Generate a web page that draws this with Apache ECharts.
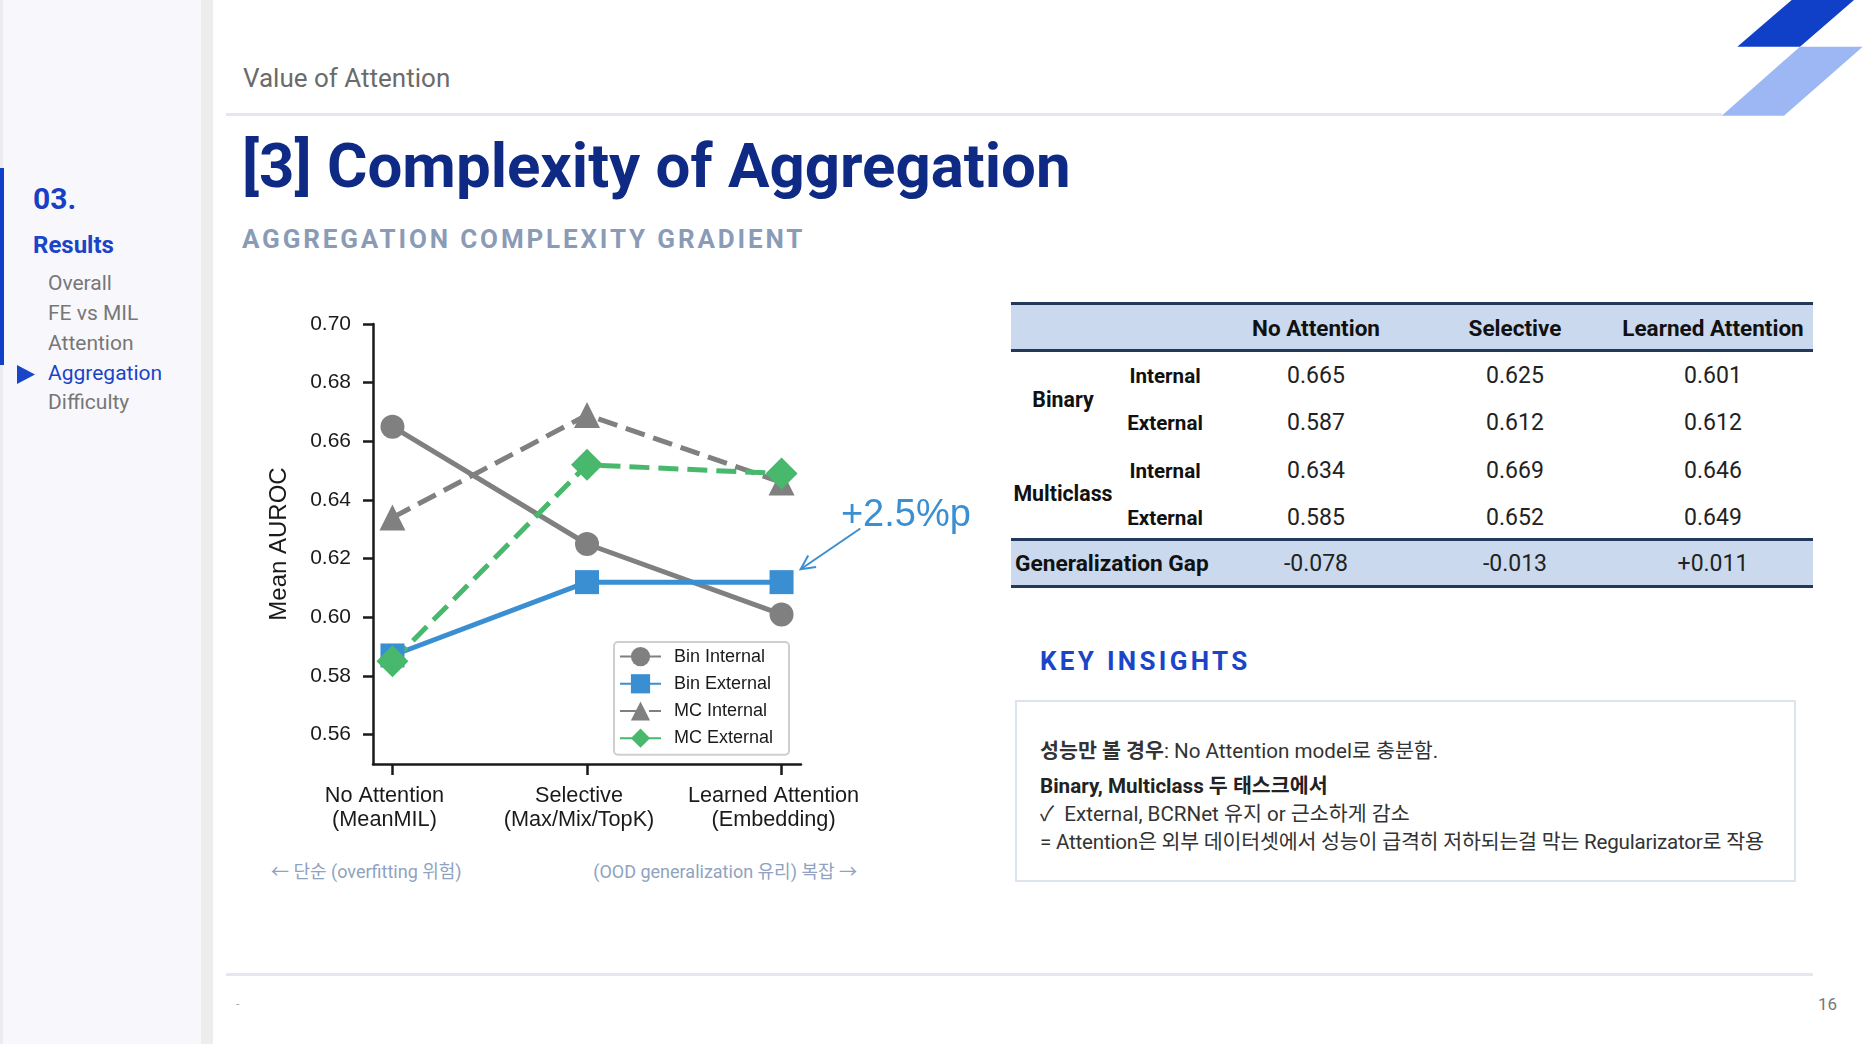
<!DOCTYPE html>
<html><head><meta charset="utf-8">
<script src="https://cdn.jsdelivr.net/npm/echarts@6/dist/echarts.min.js"></script>
<style>
html,body{margin:0;padding:0;}
body{width:1870px;height:1044px;position:relative;overflow:hidden;background:#fff;font-family:Roboto,"Noto Sans CJK KR",sans-serif;}
.a{position:absolute;white-space:nowrap;}
.menu{font-size:21px;color:#777;line-height:21px;left:48px;}
.cell{position:absolute;height:40px;line-height:40px;text-align:center;white-space:nowrap;}
.ins{left:1040px;font-size:20.6px;line-height:28px;color:#333;}
</style></head><body>
<!-- sidebar -->
<div class="a" style="left:0;top:0;width:201px;height:1044px;background:#f8f8fc;"></div>
<div class="a" style="left:0;top:0;width:3px;height:1044px;background:#ececf0;"></div>
<div class="a" style="left:201px;top:0;width:12px;height:1044px;background:#ededed;"></div>
<div class="a" style="left:0;top:168px;width:4px;height:197px;background:#1040c8;"></div>
<div class="a" style="left:33px;top:184px;font-size:30px;line-height:30px;font-weight:700;color:#1a3fc4;">03.</div>
<div class="a" style="left:33px;top:233px;font-size:24px;line-height:24px;font-weight:700;color:#1a45c8;">Results</div>
<div class="a menu" style="top:273px;">Overall</div>
<div class="a menu" style="top:303px;">FE vs MIL</div>
<div class="a menu" style="top:333px;">Attention</div>
<div class="a menu" style="top:363px;color:#1a45c8;">Aggregation</div>
<div class="a menu" style="top:392px;">Difficulty</div>
<svg class="a" style="left:0;top:0;" width="1870" height="1044">
  <polygon points="17,365 35,374.5 17,384" fill="#1a45c8"/>
  <polygon points="1791.7,0 1854,0 1800,46.7 1737.3,46.7" fill="#1040c8"/>
  <polygon points="1800,46.7 1862.7,46.7 1784,115.7 1721.7,115.7" fill="#9db6f4"/>
</svg>
<!-- header -->
<div class="a" style="left:243px;top:65px;font-size:26px;line-height:26px;color:#6b6b6b;">Value of Attention</div>
<div class="a" style="left:226px;top:113px;width:1496px;height:3px;background:#e6e6f2;"></div>
<div class="a" style="left:242px;top:135px;font-size:61.8px;line-height:62px;font-weight:700;color:#0f2a85;">[3] Complexity of Aggregation</div>
<div class="a" style="left:242px;top:226px;font-size:26px;line-height:26px;font-weight:700;color:#8a9bb8;letter-spacing:2.85px;">AGGREGATION COMPLEXITY GRADIENT</div>
<!-- chart notes -->
<div class="a" style="left:271px;top:860px;font-size:18px;line-height:24px;color:#8fa3c0;">← 단순 (overfitting 위험)</div>
<div class="a" style="left:557px;width:300px;text-align:right;top:860px;font-size:18px;line-height:24px;color:#8fa3c0;">(OOD generalization 유리) 복잡 →</div>
<!-- table -->
<div id="table" class="a" style="left:1011px;top:0;width:802px;height:600px;"></div>
<!-- key insights -->
<div class="a" style="left:1040px;top:648px;font-size:26px;line-height:26px;font-weight:700;color:#1a45c8;letter-spacing:3.3px;">KEY INSIGHTS</div>
<div class="a" style="left:1015px;top:700px;width:777px;height:178px;border:2px solid #dbe4ef;background:#fff;"></div>
<div class="a ins" style="top:737px;"><b>성능만 볼 경우</b>: No Attention model로 충분함.</div>
<div class="a ins" style="top:772px;color:#222;font-weight:700;">Binary, Multiclass 두 태스크에서</div>
<div class="a ins" style="top:800px;">✓&nbsp; External, BCRNet 유지 or 근소하게 감소</div>
<div class="a ins" style="top:828px;letter-spacing:-0.22px;">= Attention은 외부 데이터셋에서 성능이 급격히 저하되는걸 막는 Regularizator로 작용</div>
<!-- footer -->
<div class="a" style="left:226px;top:973px;width:1587px;height:3px;background:#e6e6f2;"></div>
<div class="a" style="left:236px;top:996px;font-size:12px;line-height:16px;color:#aaa;">-</div>
<div class="a" style="left:1818px;top:994px;font-size:17px;line-height:20px;color:#777;">16</div>
<div id="chart" class="a" style="left:0;top:0;width:1870px;height:1044px;"></div>
<script>
// ---- data ----
const categories = ['No Attention\n(MeanMIL)', 'Selective\n(Max/Mix/TopK)', 'Learned Attention\n(Embedding)'];
const seriesNames = ['Bin Internal', 'Bin External', 'MC Internal', 'MC External'];
const binInternal = [0.665, 0.625, 0.601];
const binExternal = [0.587, 0.612, 0.612];
const mcInternal = [0.634, 0.669, 0.646];
const mcExternal = [0.585, 0.652, 0.649];
const yTicks = [0.56, 0.58, 0.60, 0.62, 0.64, 0.66, 0.68, 0.70];
const xTicks = [0, 1, 2];
const tableCols = ['No Attention', 'Selective', 'Learned Attention'];
const tableGroups = ['Binary', 'Multiclass'];
const tableSplits = ['Internal', 'External'];
const genGap = ['-0.078', '-0.013', '+0.011'];
const annotText = '+2.5%p';
const annotFrom = [2.405, 0.6303];
const annotTo = [2.098, 0.6164];
const annotTextAt = [2.305, 0.6346];

// ---- table ----
(function(){
  const t = document.getElementById('table');
  const colX = [305, 504, 702];
  let h = '';
  h += '<div class="a" style="left:0;top:303px;width:802px;height:48px;background:#cad9ee;"></div>';
  h += '<div class="a" style="left:0;top:302px;width:802px;height:3px;background:#22395c;"></div>';
  h += '<div class="a" style="left:0;top:349px;width:802px;height:3px;background:#22395c;"></div>';
  h += '<div class="a" style="left:0;top:539px;width:802px;height:47px;background:#cad9ee;"></div>';
  h += '<div class="a" style="left:0;top:538px;width:802px;height:3px;background:#22395c;"></div>';
  h += '<div class="a" style="left:0;top:585px;width:802px;height:3px;background:#22395c;"></div>';
  tableCols.forEach((c,i)=>{ h += `<div class="cell" style="left:${colX[i]-100}px;width:200px;top:308px;font-size:22.5px;font-weight:700;color:#111;">${c}</div>`; });
  const rows = [binInternal, binExternal, mcInternal, mcExternal];
  const rowY = [376, 423, 471, 518];
  const groupY = [400, 494];
  tableGroups.forEach((g,i)=>{ h += `<div class="cell" style="left:-18px;width:140px;top:${groupY[i]-20}px;font-size:21.3px;font-weight:700;color:#111;">${g}</div>`; });
  rows.forEach((r,ri)=>{
    h += `<div class="cell" style="left:104px;width:100px;top:${rowY[ri]-20}px;font-size:20.6px;font-weight:700;color:#111;">${tableSplits[ri%2]}</div>`;
    r.forEach((v,ci)=>{ h += `<div class="cell" style="left:${colX[ci]-60}px;width:120px;top:${rowY[ri]-20}px;font-size:23px;color:#222;">${v.toFixed(3)}</div>`; });
  });
  h += `<div class="cell" style="left:4px;text-align:left;top:544px;font-size:22.7px;font-weight:700;color:#111;">Generalization Gap</div>`;
  genGap.forEach((v,ci)=>{ h += `<div class="cell" style="left:${colX[ci]-60}px;width:120px;top:544px;font-size:23px;color:#222;">${v}</div>`; });
  t.innerHTML = h;
})();

// ---- chart ----
const chart = echarts.init(document.getElementById('chart'), null, {renderer:'canvas'});
const font = '"Liberation Sans", Arial, sans-serif';
const grey = '#808080', blue = '#3a8fd3', green = '#48b86c';
const toPts = arr => arr.map((v,i)=>[xTicks[i], v]);
const dash = [20, 9];
const option = {
  animation: false,
  textStyle: {fontFamily: font},
  grid: {left: 373, top: 324, right: 1870-801, bottom: 1044-764, containLabel: false},
  xAxis: {
    type: 'value', min: -0.1, max: 2.1,
    splitLine: {show: false},
    axisLine: {show: true, onZero: false, lineStyle: {color: '#1a1a1a', width: 2.5}},
    axisTick: {show: true, customValues: xTicks, length: 11, lineStyle: {color: '#1a1a1a', width: 2.5}},
    axisLabel: {customValues: xTicks, formatter: v => categories[Math.round(v)], fontSize: 21.7, lineHeight: 24, color: '#1a1a1a', margin: 20, padding: [0, 16, 0, 0], fontFamily: font}
  },
  yAxis: {
    type: 'value', min: 0.55, max: 0.70,
    name: 'Mean AUROC', nameLocation: 'middle', nameRotate: 90, nameGap: 82,
    nameTextStyle: {fontSize: 24, color: '#1a1a1a', fontFamily: font},
    splitLine: {show: false},
    axisLine: {show: true, onZero: false, lineStyle: {color: '#1a1a1a', width: 2.5}},
    axisTick: {show: true, customValues: yTicks, length: 10, lineStyle: {color: '#1a1a1a', width: 2.5}},
    axisLabel: {customValues: yTicks, formatter: v => v.toFixed(2), fontSize: 21, color: '#1a1a1a', margin: 22, fontFamily: font}
  },
  legend: {
    orient: 'vertical', left: 614, top: 642,
    data: seriesNames,
    itemWidth: 41, itemHeight: 24, itemGap: 8,
    padding: [5, 16, 7, 5],
    borderColor: '#cfcfcf', borderWidth: 2, borderRadius: 4, backgroundColor: '#ffffff',
    textStyle: {fontSize: 18, color: '#1a1a1a', fontFamily: font, padding: [0,0,0,8]}
  },
  series: [
    {name: seriesNames[0], type: 'line', data: toPts(binInternal), symbol: 'circle', symbolSize: 24,
     itemStyle: {color: grey}, lineStyle: {color: grey, width: 5}},
    {name: seriesNames[1], type: 'line', data: toPts(binExternal), symbol: 'rect', symbolSize: 24,
     itemStyle: {color: blue}, lineStyle: {color: blue, width: 5}},
    {name: seriesNames[2], type: 'line', data: toPts(mcInternal), symbol: 'triangle', symbolSize: 26,
     itemStyle: {color: grey}, lineStyle: {color: grey, width: 5, type: dash}},
    {name: seriesNames[3], type: 'line', data: toPts(mcExternal), symbol: 'diamond', symbolSize: 32,
     itemStyle: {color: green}, lineStyle: {color: green, width: 5, type: dash}}
  ]
};
chart.setOption(option);
const finder = {xAxisIndex: 0, yAxisIndex: 0};
const p0 = chart.convertToPixel(finder, annotFrom);
const p1 = chart.convertToPixel(finder, annotTo);
const pt = chart.convertToPixel(finder, annotTextAt);
const dx = p1[0]-p0[0], dy = p1[1]-p0[1], L = Math.hypot(dx, dy);
const ux = dx/L, uy = dy/L, nx = -uy, ny = ux, hl = 14, hw = 7;
chart.setOption({graphic: [
  {type: 'line', shape: {x1: p0[0], y1: p0[1], x2: p1[0], y2: p1[1]}, style: {stroke: blue, lineWidth: 2}},
  {type: 'polyline', shape: {points: [[p1[0]-ux*hl+nx*hw, p1[1]-uy*hl+ny*hw], [p1[0], p1[1]], [p1[0]-ux*hl-nx*hw, p1[1]-uy*hl-ny*hw]]}, style: {stroke: blue, lineWidth: 2, fill: null}},
  {type: 'text', x: pt[0], y: pt[1], style: {text: annotText, fill: blue, fontSize: 38, fontFamily: font, verticalAlign: 'middle', align: 'left'}}
]});
</script>
</body></html>
